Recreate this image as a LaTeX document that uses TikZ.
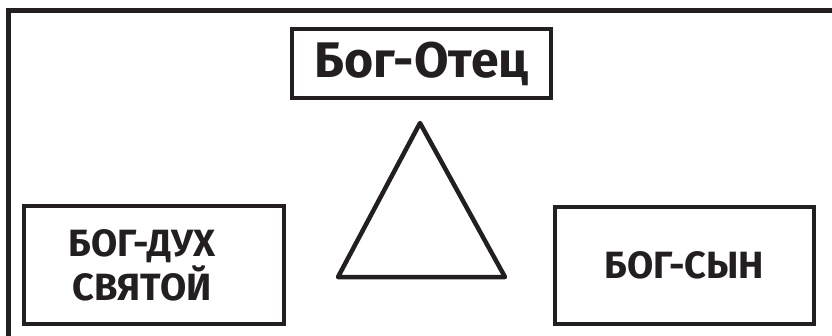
\documentclass[tikz,border=0pt]{standalone}
\usepackage{fontspec}
\setmainfont{Fira Sans}
\usepackage{tikz}
\usetikzlibrary{positioning}
\definecolor{ink}{HTML}{231F20}

\begin{document}
\begin{tikzpicture}[
    x=1pt, y=-1pt,
    every node/.style={text=ink, font=\bfseries},
    box/.style={draw=ink, line width=4.5pt, inner sep=0pt},
    title/.style={font=\bfseries\fontsize{50}{60}\selectfont},
    lbl/.style={align=center, font=\bfseries\fontsize{38}{44}\selectfont},
  ]
    \useasboundingbox (0,0) rectangle (832,335);
    \clip (0,0) rectangle (832,335);
    \fill[white] (0,0) rectangle (832,335);
    % outer frame, cut by the page edge
    \draw[ink, line width=5pt] (8.5,10.5) rectangle (850,350);

    \node[box, title, minimum width=259pt, minimum height=69pt] (father) at (421.5,63.5) {Бог-Отец};
    \node[box, minimum width=260pt, minimum height=118pt] (spirit) at (154,265) {};
    \node[lbl] (spiritlbl) at ([xshift=-12pt]spirit.center) {БОГ-ДУХ\\СВЯТОЙ};
    \node[box, lbl, minimum width=259pt, minimum height=117pt] (son) at (684.5,265.5) {БОГ-СЫН};

    \draw[ink, line width=4.5pt, line join=round] (420,123) -- (338,277) -- (505,277) -- cycle;
  \end{tikzpicture}
\end{document}
